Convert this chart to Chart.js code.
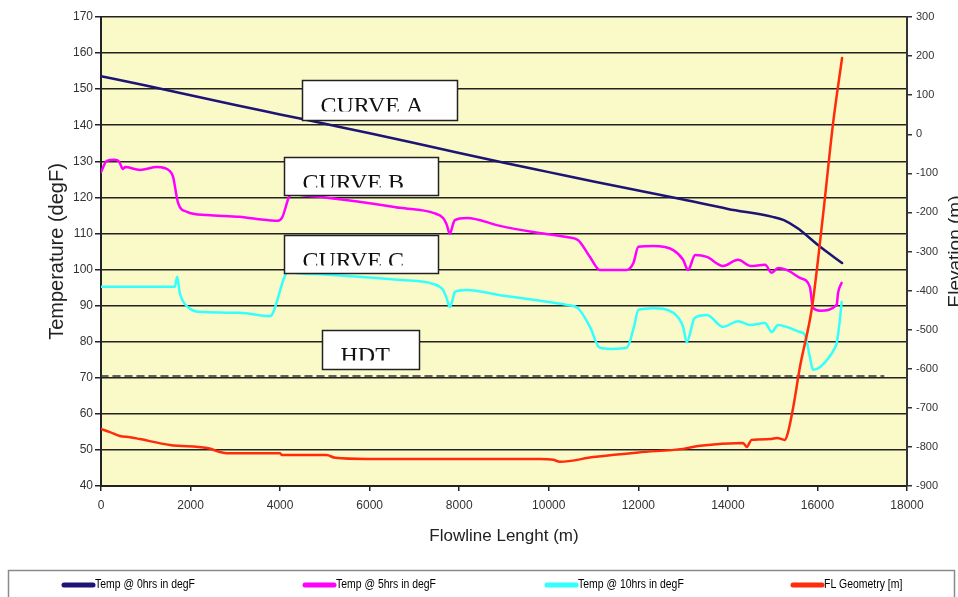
<!DOCTYPE html>
<html><head><meta charset="utf-8">
<script src="https://cdn.jsdelivr.net/npm/chart.js@4/dist/chart.umd.min.js"></script>
<style>html,body{margin:0;padding:0;background:#fff;overflow:hidden}</style>
</head><body>
<canvas id="c" width="958" height="597"></canvas>
<script>
// ---------- data ----------
const xTicks = [0, 2000, 4000, 6000, 8000, 10000, 12000, 14000, 16000, 18000];
const tempTicks = [40, 50, 60, 70, 80, 90, 100, 110, 120, 130, 140, 150, 160, 170];
const elevTicks = [-900, -800, -700, -600, -500, -400, -300, -200, -100, 0, 100, 200, 300];

const seriesNames = ['Temp @ 0hrs in degF', 'Temp @ 5hrs in degF', 'Temp @ 10hrs in degF', 'FL Geometry [m]'];
const curveLabels = ['CURVE A', 'CURVE B', 'CURVE C', 'HDT'];

const xA = [0, 1000, 2000, 3000, 4000, 5000, 6000, 7000, 8000, 9000, 10000, 11000, 12000, 13000, 14000, 15000, 15250, 15550, 16060, 16550];
const tempA = [153.6, 151.0, 148.3, 145.6, 143.0, 140.4, 137.8, 135.1, 132.3, 129.6, 127.0, 124.4, 121.9, 119.4, 116.8, 114.6, 113.7, 111.5, 106.3, 101.8];

const xB = [0, 130, 300, 400, 490, 540, 870, 1250, 1540, 1610, 1720, 1920, 2370, 3100, 3480, 3950, 4040, 4250, 4500, 5000, 6000, 6680, 7420, 7640, 7720, 7790, 7860, 7900, 8170, 8910, 9650, 10400, 10650, 10920, 11140, 11740, 11890, 12000, 12330, 12780, 13000, 13110, 13270, 13530, 13890, 14230, 14500, 14830, 14980, 15120, 15310, 15610, 15830, 15900, 16060, 16430, 16460, 16540];
const tempB = [127.0, 130.1, 130.4, 130.0, 127.9, 128.4, 127.6, 128.4, 127.3, 125.7, 118.5, 116.0, 115.1, 114.6, 114.0, 113.5, 114.3, 121.0, 120.6, 120.0, 118.4, 117.1, 115.7, 114.3, 112.5, 109.9, 112.5, 113.7, 114.3, 112.1, 110.4, 109.0, 108.2, 103.5, 99.9, 99.9, 101.8, 106.3, 106.5, 105.4, 102.7, 99.9, 104.0, 103.5, 101.0, 102.7, 101.0, 101.3, 99.1, 100.4, 99.9, 97.7, 95.2, 89.4, 88.6, 90.2, 93.5, 96.3];

const xC = [0, 1650, 1700, 1760, 1940, 2280, 3100, 3780, 3840, 4180, 4400, 5000, 6000, 6680, 7420, 7640, 7720, 7790, 7860, 7900, 8170, 8910, 9650, 10400, 10650, 10920, 11140, 11400, 11740, 11900, 12000, 12330, 12780, 13000, 13080, 13260, 13530, 13890, 14230, 14500, 14830, 14980, 15120, 15310, 15610, 15720, 15830, 15900, 16060, 16390, 16430, 16500, 16540];
const tempC = [95.2, 95.2, 98.0, 93.5, 89.6, 88.2, 88.0, 87.1, 88.0, 99.3, 99.0, 98.6, 97.8, 97.1, 96.0, 94.3, 92.0, 89.6, 92.0, 93.8, 94.3, 92.9, 91.6, 90.2, 89.3, 84.1, 78.3, 78.0, 78.3, 84.0, 88.8, 89.3, 88.0, 84.1, 79.9, 86.6, 87.4, 84.1, 85.7, 84.6, 85.2, 82.7, 84.6, 84.1, 82.7, 81.9, 75.8, 72.2, 73.0, 78.3, 79.6, 86.0, 91.0];

const xFL = [0, 200, 420, 650, 870, 1540, 2370, 2810, 4000, 4040, 5040, 5230, 5940, 9800, 10100, 10250, 11000, 12000, 13000, 13380, 14340, 14420, 14530, 14940, 15100, 15270, 15340, 15460, 15610, 15880, 16120, 16350, 16550];
const elevFL = [-754, -762, -772, -775, -780, -795, -803, -816, -816, -821, -821, -828, -831, -831, -833, -838, -826, -814, -805, -797, -790, -800, -782, -780, -777, -782, -764, -698, -595, -442, -212, 29, 195];

const xHDT = [0, 17480];
const tempHDT = [70.5, 70.5];

// ---------- helpers ----------
const pts = (xs, ys) => xs.map((x, i) => ({x: x, y: ys[i]}));
const SANS = "'Liberation Sans', Arial, sans-serif";

const bgPlugin = {
  id: 'bg',
  beforeDraw(chart) {
    const {ctx, chartArea: a} = chart;
    ctx.save();
    ctx.fillStyle = '#ffffff';
    ctx.fillRect(0, 0, chart.width, chart.height);
    ctx.fillStyle = '#FAFAC8';
    ctx.fillRect(a.left, a.top, a.right - a.left, a.bottom - a.top);
    ctx.restore();
  }
};

const boxPlugin = {
  id: 'curveBoxes',
  afterDatasetsDraw(chart, args, opts) {
    const {ctx} = chart;
    const sx = chart.scales.x, sy = chart.scales.y;
    ctx.save();
    opts.boxes.forEach((b, i) => {
      const l = Math.round(sx.getPixelForValue(b.x0)) + 0.5;
      const r = Math.round(sx.getPixelForValue(b.x1)) + 0.5;
      const t = Math.round(sy.getPixelForValue(b.y0)) + 0.5;
      const btm = Math.round(sy.getPixelForValue(b.y1)) + 0.5;
      ctx.fillStyle = '#ffffff';
      ctx.fillRect(l, t, r - l, btm - t);
      ctx.save();
      ctx.beginPath();
      ctx.rect(l, t, r - l, b.clip);
      ctx.clip();
      ctx.fillStyle = '#111111';
      ctx.font = "24px 'Liberation Serif', 'Times New Roman', serif";
      ctx.textAlign = 'left';
      ctx.textBaseline = 'alphabetic';
      ctx.fillText(curveLabels[i], l + 18, t + 32);
      ctx.restore();
      ctx.strokeStyle = '#222222';
      ctx.lineWidth = 1.5;
      ctx.strokeRect(l, t, r - l, btm - t);
    });
    ctx.restore();
  }
};

const extrasPlugin = {
  id: 'extras',
  afterDraw(chart, args, opts) {
    const {ctx} = chart;
    const a = chart.chartArea;
    ctx.save();
    // right axis title (reads bottom to top)
    ctx.translate(961, (a.top + a.bottom) / 2);
    ctx.rotate(-Math.PI / 2);
    ctx.font = '19px ' + SANS;
    ctx.fillStyle = '#222222';
    ctx.textAlign = 'center';
    ctx.textBaseline = 'alphabetic';
    ctx.fillText('Elevation (m)', 0, 0);
    ctx.restore();

    // legend box
    ctx.save();
    ctx.strokeStyle = '#8a8a8a';
    ctx.lineWidth = 1.5;
    ctx.strokeRect(8.5, 570.5, 946, 40);
    const ly = 585;
    opts.itemX.forEach((lx, i) => {
      const ds = chart.data.datasets.find(d => d.label === seriesNames[i]);
      ctx.strokeStyle = ds.borderColor;
      ctx.lineWidth = 5;
      ctx.lineCap = 'round';
      ctx.beginPath();
      ctx.moveTo(lx + 2, ly);
      ctx.lineTo(lx + 31, ly);
      ctx.stroke();
      ctx.save();
      ctx.translate(lx + 33, ly);
      ctx.scale(0.87, 1);
      ctx.fillStyle = '#000000';
      ctx.font = '12px ' + SANS;
      ctx.textAlign = 'left';
      ctx.textBaseline = 'middle';
      ctx.fillText(ds.label, 0, 0);
      ctx.restore();
    });
    ctx.restore();
  }
};

new Chart(document.getElementById('c'), {
  type: 'line',
  data: {
    datasets: [
      {label: seriesNames[3], data: pts(xFL, elevFL), yAxisID: 'y2', borderColor: '#FF2B0A', borderWidth: 2.5, order: 0},
      {label: seriesNames[0], data: pts(xA, tempA), yAxisID: 'y', borderColor: '#1D1475', borderWidth: 2.5, order: 1},
      {label: seriesNames[1], data: pts(xB, tempB), yAxisID: 'y', borderColor: '#FF00FF', borderWidth: 2.5, order: 2},
      {label: seriesNames[2], data: pts(xC, tempC), yAxisID: 'y', borderColor: '#33FFFF', borderWidth: 2.5, order: 3},
      {label: 'HDT', data: pts(xHDT, tempHDT), yAxisID: 'y', borderColor: '#333333', borderWidth: 1.6, borderDash: [7, 5], tension: 0, order: 4}
    ]
  },
  options: {
    responsive: false,
    animation: false,
    devicePixelRatio: 1,
    layout: {padding: {left: 0, right: 0, top: 17, bottom: 41}},
    elements: {
      point: {radius: 0, hoverRadius: 0},
      line: {tension: 0.4, cubicInterpolationMode: 'monotone', fill: false, borderCapStyle: 'round', borderJoinStyle: 'round'}
    },
    plugins: {
      legend: {display: false},
      tooltip: {enabled: false},
      curveBoxes: {
        boxes: [
          {x0: 4488, x1: 7950, y0: 152.5, y1: 141.4, clip: 31},
          {x0: 4087, x1: 7526, y0: 131.2, y1: 120.7, clip: 30},
          {x0: 4087, x1: 7526, y0: 109.6, y1: 99.05, clip: 30},
          {x0: 4935, x1: 7101, y0: 83.25, y1: 72.45, clip: 30}
        ]
      },
      extras: {itemX: [62, 303, 545, 791]}
    },
    scales: {
      x: {
        type: 'linear', min: 0, max: 18000,
        afterBuildTicks: s => { s.ticks = xTicks.map(v => ({value: v})); },
        afterFit: s => { s.height = 70; },
        ticks: {callback: v => String(v), font: {family: SANS, size: 12}, color: '#333333', padding: 7, maxRotation: 0, autoSkip: false},
        grid: {display: true, drawOnChartArea: false, drawTicks: true, tickLength: 5, color: '#222222', lineWidth: 1.5},
        border: {display: true, color: '#222222', width: 2},
        title: {display: true, text: 'Flowline Lenght (m)', font: {family: SANS, size: 17}, color: '#222222', padding: {top: 0, bottom: 9}}
      },
      y: {
        type: 'linear', position: 'left', min: 40, max: 170,
        afterBuildTicks: s => { s.ticks = tempTicks.map(v => ({value: v})); },
        afterFit: s => { s.width = 101; },
        ticks: {callback: v => String(v), font: {family: SANS, size: 12}, color: '#333333', padding: 2, autoSkip: false},
        grid: {display: true, drawOnChartArea: true, drawTicks: true, tickLength: 6, color: '#222222', lineWidth: 1.5},
        border: {display: true, color: '#222222', width: 2},
        title: {display: true, text: 'Temperature (degF)', font: {family: SANS, size: 20}, color: '#222222', padding: {top: 45, bottom: 0}}
      },
      y2: {
        type: 'linear', position: 'right', min: -900, max: 300,
        afterBuildTicks: s => { s.ticks = elevTicks.map(v => ({value: v})); },
        afterFit: s => { s.width = 51; },
        ticks: {callback: v => String(v), font: {family: SANS, size: 11}, color: '#333333', padding: 4, autoSkip: false},
        grid: {display: true, drawOnChartArea: false, drawTicks: true, tickLength: 5, color: '#333333', lineWidth: 1.5},
        border: {display: true, color: '#333333', width: 2},
        title: {display: false}
      }
    }
  },
  plugins: [bgPlugin, boxPlugin, extrasPlugin]
});
</script>
</body></html>
